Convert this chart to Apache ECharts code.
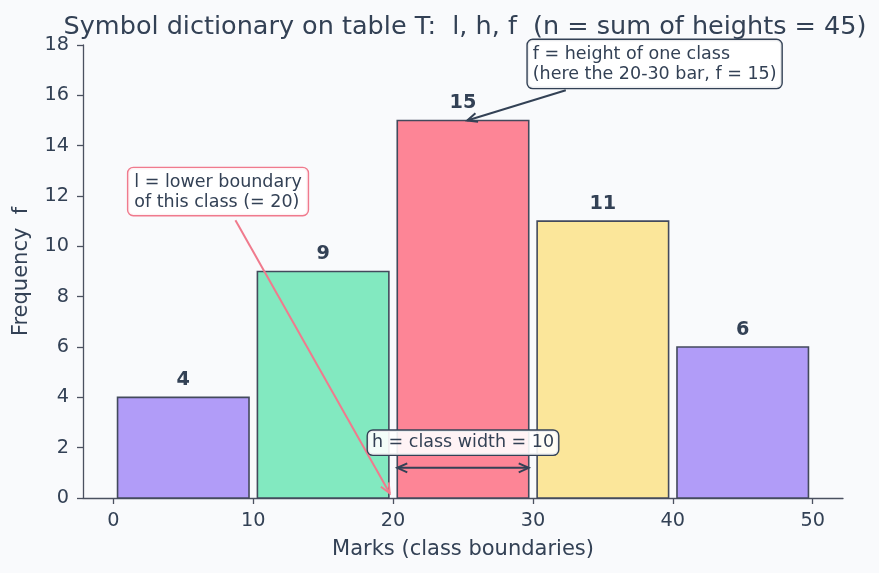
<!DOCTYPE html>
<html>
<head>
<meta charset="utf-8">
<script src="https://cdn.jsdelivr.net/npm/echarts@6/dist/echarts.min.js"></script>
<style>
html,body{margin:0;padding:0;background:#f9fafc;}
#chart{width:879px;height:573px;}
</style>
</head>
<body>
<div id="chart"></div>
<script>
// ---- data ----
const lowerBounds = [0, 10, 20, 30, 40];
const upperBounds = [10, 20, 30, 40, 50];
const frequencies = [4, 9, 15, 11, 6];
const xTickValues = [0, 10, 20, 30, 40, 50];
const titleText = 'Symbol dictionary on table T:  l, h, f  (n = sum of heights = 45)';
const xAxisName = 'Marks (class boundaries)';
const yAxisName = 'Frequency  f';
// annotation texts and their anchor points (data coordinates)
const annFText = 'f = height of one class\n(here the 20-30 bar, f = 15)';
const annFBox = [29.63, 18.2];
const annFArrow = [[32.35, 16.2], [25.3, 15.0]];
const annLText = 'l = lower boundary\nof this class (= 20)';
const annLBox = [1.07, 13.11];
const annLArrow = [[8.73, 11.04], [19.76, 0.19]];
const annHText = 'h = class width = 10';
const annHBox = [25, 2.2];
const annHArrow = [[20.3, 1.2], [29.7, 1.2]];

// ---- styles ----
const barColors = ['#b19cf8', '#82e9c0', '#fd8596', '#fbe69a', '#b19cf8'];
const edgeColor = '#434a5c';
const textColor = '#334155';
const axisColor = '#4b5160';
const pinkLine = '#f07a8d';
const FONT = '"DejaVu Sans", sans-serif';

const chart = echarts.init(document.getElementById('chart'), null, {renderer: 'canvas'});

function arrowHead(tip, from, color, len, half) {
  const dx = tip[0] - from[0], dy = tip[1] - from[1];
  const d = Math.sqrt(dx * dx + dy * dy);
  const ux = dx / d, uy = dy / d;
  const bx = tip[0] - ux * len, by = tip[1] - uy * len;
  return {
    type: 'polyline',
    shape: {points: [[bx - uy * half, by + ux * half], tip, [bx + uy * half, by - ux * half]]},
    style: {stroke: color, lineWidth: 2, fill: null},
    z2: 20
  };
}

function boxStyle(text, p, align, vAlign, border, lh, pad) {
  return {type: 'text', z2: 30, style: {
    text: text, x: p[0], y: p[1], align: align, verticalAlign: vAlign,
    font: '17.5px ' + FONT, fill: textColor, lineHeight: lh,
    backgroundColor: 'rgba(255,255,255,0.9)', borderColor: border, borderWidth: 1.4, borderRadius: 5,
    padding: pad
  }};
}

function annotationItem(params, api) {
  const children = [];
  const fA = api.coord(annFArrow[0]), fB = api.coord(annFArrow[1]);
  children.push({type: 'line', shape: {x1: fA[0], y1: fA[1], x2: fB[0], y2: fB[1]}, style: {stroke: textColor, lineWidth: 2}, z2: 20});
  children.push(arrowHead(fB, fA, textColor, 10, 4.5));
  const lA = api.coord(annLArrow[0]), lB = api.coord(annLArrow[1]);
  children.push({type: 'line', shape: {x1: lA[0], y1: lA[1], x2: lB[0], y2: lB[1]}, style: {stroke: pinkLine, lineWidth: 2}, z2: 20});
  children.push(arrowHead(lB, lA, pinkLine, 10, 4.5));
  const hA = api.coord(annHArrow[0]), hB = api.coord(annHArrow[1]);
  children.push({type: 'line', shape: {x1: hA[0], y1: hA[1], x2: hB[0], y2: hB[1]}, style: {stroke: textColor, lineWidth: 2}, z2: 20});
  children.push(arrowHead(hB, hA, textColor, 10, 4.5));
  children.push(arrowHead(hA, hB, textColor, 10, 4.5));
  children.push(boxStyle(annFText, api.coord(annFBox), 'left', 'top', textColor, 20, [4, 5, 4, 5]));
  children.push(boxStyle(annLText, api.coord(annLBox), 'left', 'top', pinkLine, 20, [4, 6, 3, 6]));
  children.push(boxStyle(annHText, api.coord(annHBox), 'center', 'middle', textColor, 18, [3, 4, 3, 4]));
  return {type: 'group', children: children};
}

const barData = lowerBounds.map((lo, i) => [lo, upperBounds[i], frequencies[i]]);

chart.setOption({
  backgroundColor: '#f9fafc',
  animation: false,
  title: {
    text: titleText, left: 460, top: 9, textAlign: 'center',
    textStyle: {fontFamily: FONT, fontSize: 25.5, fontWeight: 'normal', color: textColor}
  },
  grid: {left: 83, right: 36, top: 45, bottom: 75, containLabel: false},
  xAxis: {
    type: 'value', min: -2.17, max: 52.17,
    name: xAxisName, nameLocation: 'middle', nameGap: 41,
    nameTextStyle: {fontFamily: FONT, fontSize: 21, color: textColor},
    axisLine: {show: true, onZero: false, lineStyle: {color: axisColor, width: 1.3}},
    axisTick: {show: true, length: 6, lineStyle: {color: axisColor, width: 1.3}, customValues: xTickValues},
    axisLabel: {fontFamily: FONT, fontSize: 19.25, color: textColor, margin: 13, customValues: xTickValues},
    splitLine: {show: false}
  },
  yAxis: {
    type: 'value', min: 0, max: 18, interval: 2,
    name: yAxisName, nameLocation: 'middle', nameGap: 51, nameRotate: 90,
    nameTextStyle: {fontFamily: FONT, fontSize: 21, color: textColor},
    axisLine: {show: true, onZero: false, lineStyle: {color: axisColor, width: 1.3}},
    axisTick: {show: true, length: 6, lineStyle: {color: axisColor, width: 1.3}},
    axisLabel: {fontFamily: FONT, fontSize: 19.25, color: textColor, margin: 14},
    splitLine: {show: false}
  },
  series: [
    {
      type: 'custom',
      data: barData,
      z: 2,
      renderItem: function (params, api) {
        const lo = api.value(0), hi = api.value(1), f = api.value(2);
        const gap = 0.3;
        const p0 = api.coord([lo + gap, f]);
        const p1 = api.coord([hi - gap, 0]);
        const top = api.coord([(lo + hi) / 2, f + 0.3]);
        return {
          type: 'group',
          children: [
            {type: 'rect', shape: {x: p0[0], y: p0[1], width: p1[0] - p0[0], height: p1[1] - p0[1]},
             style: {fill: barColors[params.dataIndex], stroke: edgeColor, lineWidth: 1.6}},
            {type: 'text', style: {text: String(f), x: top[0], y: top[1], align: 'center', verticalAlign: 'bottom',
             font: 'bold 19.25px ' + FONT, fill: textColor}}
          ]
        };
      }
    },
    {
      type: 'custom',
      data: [[0, 0]],
      z: 5,
      renderItem: annotationItem
    }
  ]
});
</script>
</body>
</html>
